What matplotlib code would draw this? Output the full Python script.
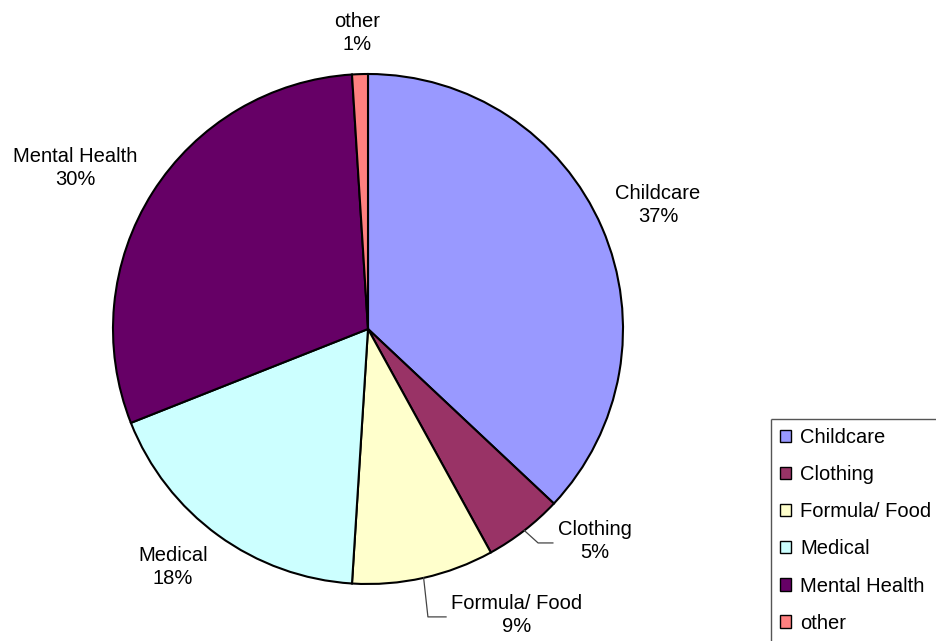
import numpy as np
import matplotlib
matplotlib.use("Agg")
import matplotlib.pyplot as plt
from matplotlib.patches import Patch
from matplotlib.lines import Line2D

plt.rcParams['font.family'] = ['Liberation Sans', 'DejaVu Sans']

# data
labels = ['Childcare', 'Clothing', 'Formula/ Food', 'Medical', 'Mental Health', 'other']
shares = [37, 5, 9, 18, 30, 1]
colors = ['#9999FF', '#993366', '#FFFFCC', '#CCFFFF', '#660066', '#FF8080']

# where the data labels sit (pie radius = 1)
label_xy = [(1.137, 0.486), (0.890, -0.831), (0.584, -1.122),
            (-0.765, -0.933), (-1.149, 0.631), (-0.043, 1.161)]
# leader lines: elbow and end, for the small slices only
leaders = {1: [(0.667, -0.839), (0.725, -0.839)],
           2: [(0.235, -1.129), (0.306, -1.129)]}

W, H = 937, 641
fig = plt.figure(figsize=(W / 100, H / 100), dpi=100)
cx, cy, r = 368, 641 - 329, 255
ax = fig.add_axes([(cx - r) / W, (cy - r) / H, 2 * r / W, 2 * r / H])

wedges, _ = ax.pie(shares, colors=colors, startangle=90, counterclock=False,
                   radius=1, wedgeprops=dict(edgecolor='black', linewidth=1.5))
ax.set_xlim(-1, 1)
ax.set_ylim(-1, 1)
ax.set_aspect('equal')
ax.axis('off')

for i, (w, lab, val) in enumerate(zip(wedges, labels, shares)):
    x, y = label_xy[i]
    ax.text(x, y, '%s\n%d%%' % (lab, val), ha='center', va='center',
            fontsize=14.5, linespacing=1.25, color='black')
    if i in leaders:
        ang = np.deg2rad((w.theta1 + w.theta2) / 2)
        pts = [(np.cos(ang), np.sin(ang))] + leaders[i]
        ax.plot([p[0] for p in pts], [p[1] for p in pts], color='#444444',
                lw=0.9, clip_on=False)

# legend box runs off the edge of the picture: only left and top edges show
bx, by = 771 / W, 1 - 419 / H
fig.lines.append(Line2D([bx, bx], [0, by], transform=fig.transFigure,
                        color='#555555', lw=1.0, solid_capstyle='butt'))
fig.lines.append(Line2D([bx, 1.0], [by, by], transform=fig.transFigure,
                        color='#555555', lw=1.0, solid_capstyle='butt'))
handles = [Patch(facecolor=c, edgecolor='black', lw=1.0) for c in colors]
fig.legend(handles, labels, loc='upper left', bbox_to_anchor=(bx, by),
           frameon=False, borderaxespad=0, borderpad=0.45, handlelength=0.55,
           handleheight=0.55, handletextpad=0.45, labelspacing=0.9, fontsize=14.5)

fig.savefig('out.png', dpi=100)
